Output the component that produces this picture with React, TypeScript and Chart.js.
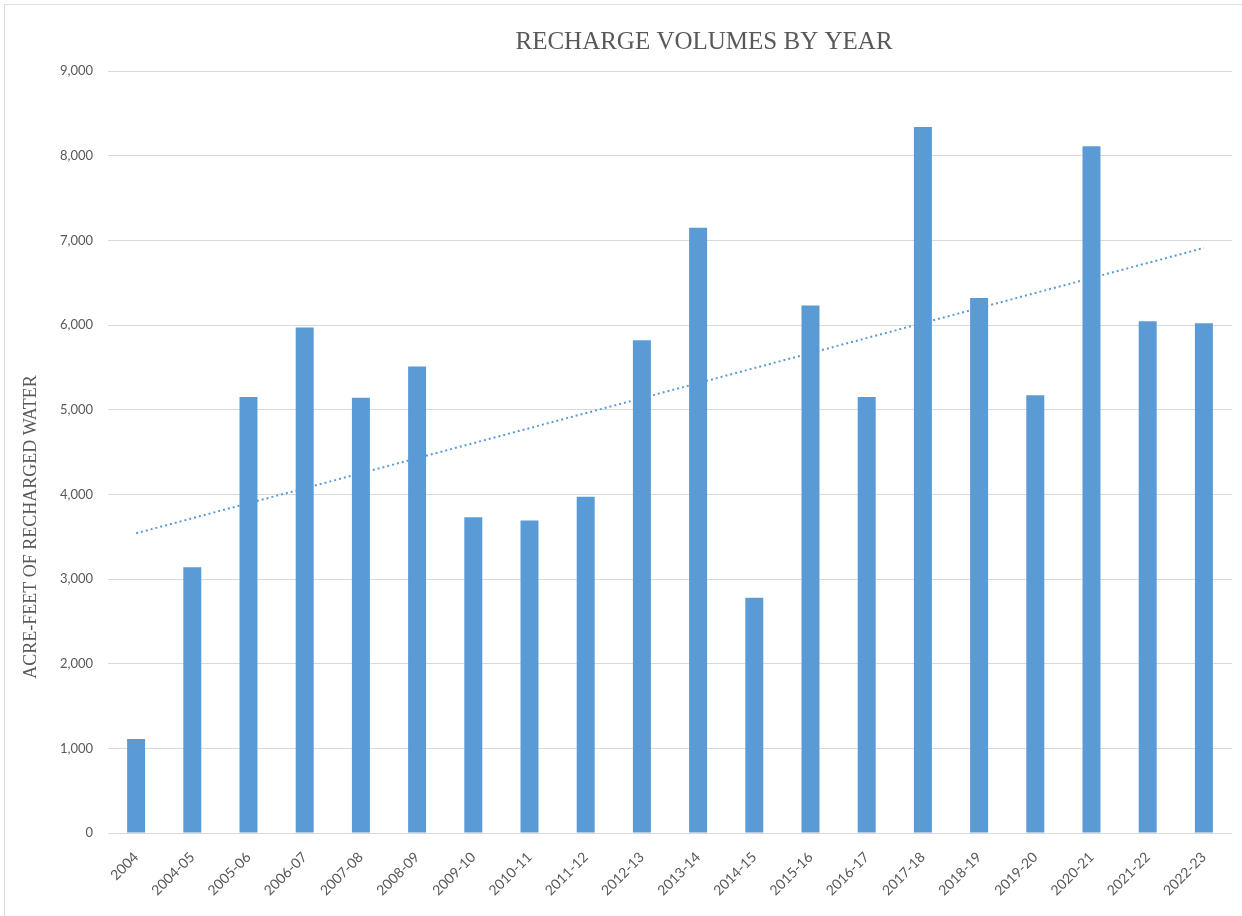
import React, { useEffect, useRef } from "react";
import { Chart, registerables } from "chart.js";

Chart.register(...registerables);

const categories: string[] = [
  "2004", "2004-05", "2005-06", "2006-07", "2007-08", "2008-09", "2009-10",
  "2010-11", "2011-12", "2012-13", "2013-14", "2014-15", "2015-16", "2016-17",
  "2017-18", "2018-19", "2019-20", "2020-21", "2021-22", "2022-23",
];

const rechargeValues: number[] = [
  1110, 3140, 5150, 5970, 5140, 5510, 3730, 3690, 3970, 5820,
  7150, 2780, 6230, 5150, 8340, 6320, 5170, 8110, 6045, 6020,
];

// Trendline endpoints (first and last category)
const trendStart = 3540;
const trendEnd = 6910;

const yMin = 0;
const yMax = 9000;
const yStep = 1000;

const chartTitle = "RECHARGE VOLUMES BY YEAR";
const yAxisTitle = "ACRE-FEET OF RECHARGED WATER";

const TEXT_COLOR = "#595959";
const BAR_COLOR = "#5B9BD5";
const GRID_COLOR = "#d9d9d9";

const textPlugin = {
  id: "textPlugin",
  afterDraw(chart: any) {
    const ctx = chart.ctx;
    ctx.save();
    ctx.fillStyle = TEXT_COLOR;
    ctx.textAlign = "center";
    ctx.textBaseline = "middle";
    // chart title
    ctx.font = "25px 'Liberation Serif', serif";
    ctx.fillText(chartTitle, 704, 42);
    // y-axis title
    ctx.translate(31, 527);
    ctx.rotate(-Math.PI / 2);
    ctx.font = "18px 'Liberation Serif', serif";
    ctx.fillText(yAxisTitle, 0, 0);
    ctx.restore();
  },
};

export default function App() {
  const canvasRef = useRef<HTMLCanvasElement | null>(null);

  useEffect(() => {
    if (!canvasRef.current) return;
    const chart = new Chart(canvasRef.current, {
      type: "bar",
      data: {
        labels: categories,
        datasets: [
          {
            type: "bar",
            label: "Recharge",
            data: rechargeValues,
            backgroundColor: BAR_COLOR,
            borderWidth: 0,
            barPercentage: 1,
            categoryPercentage: 0.32,
            order: 2,
          },
          {
            type: "line",
            label: "Trend",
            data: [
              { x: categories[0], y: trendStart },
              { x: categories[categories.length - 1], y: trendEnd },
            ] as any,
            borderColor: BAR_COLOR,
            borderWidth: 2,
            borderDash: [2, 3],
            pointRadius: 0,
            fill: false,
            order: 1,
          },
        ],
      },
      options: {
        animation: false,
        responsive: false,
        maintainAspectRatio: false,
        layout: { padding: { left: 0, right: 10, top: 71, bottom: 0 } },
        plugins: {
          legend: { display: false },
          tooltip: { enabled: false },
          title: { display: false },
        },
        scales: {
          x: {
            type: "category",
            grid: { display: false },
            border: { display: false },
            ticks: {
              color: TEXT_COLOR,
              font: { family: "Lato, sans-serif", size: 14 },
              minRotation: 45,
              maxRotation: 45,
              padding: 8,
              autoSkip: false,
            },
            afterFit(scale: any) {
              scale.height = 916 - 833;
            },
          },
          y: {
            min: yMin,
            max: yMax,
            grid: { color: GRID_COLOR, drawTicks: false, lineWidth: 1 },
            border: { display: false },
            ticks: {
              stepSize: yStep,
              color: TEXT_COLOR,
              font: { family: "Lato, sans-serif", size: 13 },
              padding: 15,
              callback: (v: any) => Number(v).toLocaleString("en-US"),
            },
            afterFit(scale: any) {
              scale.width = 108;
            },
          },
        },
      },
      plugins: [textPlugin],
    });
    return () => chart.destroy();
  }, []);

  return (
    <div
      style={{
        position: "fixed",
        top: 0,
        left: 0,
        width: 1242,
        height: 916,
        background: "#ffffff",
        overflow: "hidden",
      }}
    >
      <div
        style={{
          position: "absolute",
          top: 4,
          left: 4,
          width: 1260,
          height: 940,
          border: "1px solid #dedede",
          boxSizing: "border-box",
        }}
      />
      <canvas
        ref={canvasRef}
        width={1242}
        height={916}
        style={{ position: "absolute", top: 0, left: 0, width: 1242, height: 916 }}
      />
    </div>
  );
}
